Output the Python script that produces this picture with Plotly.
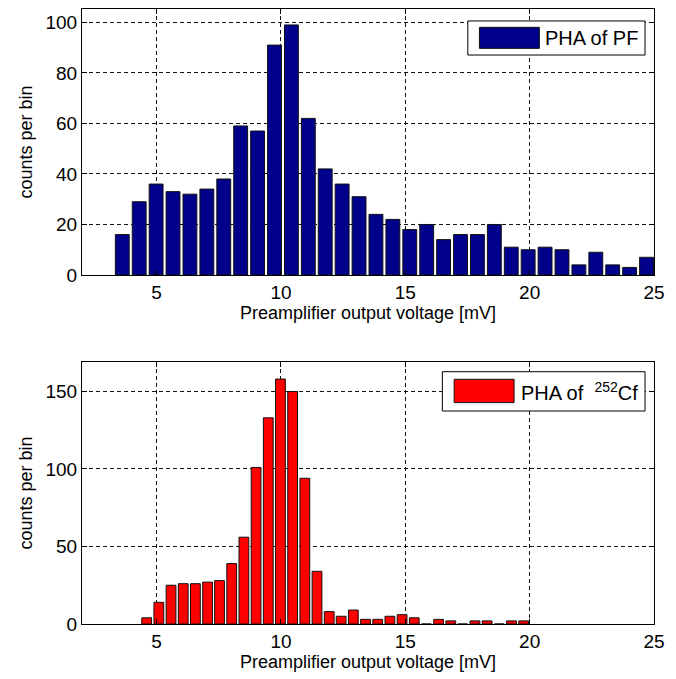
import plotly.graph_objects as go
from plotly.subplots import make_subplots

# bin centres [mV] and counts
pf_centres = [3.62, 4.30, 4.98, 5.66, 6.34, 7.02, 7.70, 8.38, 9.06, 9.74, 10.42,
              11.10, 11.78, 12.46, 13.14, 13.82, 14.50, 15.18, 15.86, 16.54, 17.22,
              17.90, 18.58, 19.26, 19.94, 20.62, 21.30, 21.98, 22.66, 23.34, 24.02, 24.70]
pf_counts = [16, 29, 36, 33, 32, 34, 38, 59, 57, 91, 99,
             62, 42, 36, 31, 24, 22, 18, 20, 14, 16,
             16, 20, 11, 10, 11, 10, 4, 9, 4, 3, 7]

cf_centres = [4.60, 5.09, 5.58, 6.07, 6.56, 7.05, 7.53, 8.02, 8.51, 9.00, 9.49,
              9.98, 10.47, 10.96, 11.45, 11.94, 12.42, 12.91, 13.40, 13.89, 14.38,
              14.87, 15.36, 15.85, 16.34, 16.83, 17.31, 17.80, 18.29, 18.78, 19.27, 19.76]
cf_counts = [4, 14, 25, 26, 26, 27, 28, 39, 56, 101, 133,
             158, 150, 94, 34, 8, 5, 9, 3, 3, 5,
             6, 4, 0, 3, 2, 0, 2, 2, 0, 2, 2]

x_ticks = [5, 10, 15, 20, 25]
pf_yticks = [0, 20, 40, 60, 80, 100]
cf_yticks = [0, 50, 100, 150]

x_title = "Preamplifier output voltage [mV]"
y_title = "counts per bin"

FONT = "Liberation Sans, Arial, sans-serif"
NAVY = "#00008b"
RED = "#ff0000"

fig = make_subplots(rows=2, cols=1)

fig.add_trace(go.Bar(x=pf_centres, y=pf_counts, name="PHA of PF",
                     marker=dict(color=NAVY, line=dict(color="#111", width=1))),
              row=1, col=1)
fig.add_trace(go.Bar(x=cf_centres, y=cf_counts, name="PHA of 252Cf",
                     marker=dict(color=RED, line=dict(color="#111", width=1))),
              row=2, col=1)

axis_style = dict(showline=True, linecolor="black", linewidth=1, mirror="ticks",
                  ticks="inside", ticklen=5, tickcolor="black",
                  showgrid=True, gridcolor="#111", gridwidth=1, griddash="4px,3px",
                  zeroline=False, tickfont=dict(family=FONT, size=19, color="black"))

fig.update_xaxes(**axis_style, range=[2, 25], tickvals=x_ticks,
                 title=dict(text=x_title, font=dict(family=FONT, size=18, color="black"),
                            standoff=2))
fig.update_yaxes(**axis_style,
                 title=dict(text=y_title, font=dict(family=FONT, size=18, color="black"),
                            standoff=8))
fig.update_yaxes(range=[0, 105.3], tickvals=pf_yticks, domain=[0.5675, 1], row=1, col=1)
fig.update_yaxes(range=[0, 169], tickvals=cf_yticks, domain=[0, 0.426], row=2, col=1)

# MATLAB style legends (big swatch), drawn by hand in axis-domain coordinates
legends = [
    ("x", "y", [0.6745, 0.827, 0.9843, 0.955], [0.6948, 0.852, 0.7996, 0.931],
     0.806, 0.891, NAVY, "PHA of PF"),
    ("x2", "y2", [0.630, 0.813, 0.9843, 0.963], [0.6506, 0.845, 0.7554, 0.934],
     0.764, 0.889, RED, "PHA of  <sup>252</sup>Cf"),
]
for xa, ya, box, sw, tx, ty, col, txt in legends:
    fig.add_shape(type="rect", xref=xa + " domain", yref=ya + " domain",
                  x0=box[0], y0=box[1], x1=box[2], y1=box[3],
                  fillcolor="white", line=dict(color="black", width=1))
    fig.add_shape(type="rect", xref=xa + " domain", yref=ya + " domain",
                  x0=sw[0], y0=sw[1], x1=sw[2], y1=sw[3],
                  fillcolor=col, line=dict(color="#111", width=1))
    fig.add_annotation(xref=xa + " domain", yref=ya + " domain", x=tx, y=ty,
                       text=txt, showarrow=False, xanchor="left", yanchor="middle",
                       font=dict(family=FONT, size=20, color="black"))

# page body has an 8px margin, so shrink the figure to keep the reference geometry
fig.update_layout(width=668, height=671, showlegend=False, bargap=0.18,
                  plot_bgcolor="white", paper_bgcolor="white",
                  margin=dict(l=74, r=22, t=1, b=55))

fig.write_html("out.html")
